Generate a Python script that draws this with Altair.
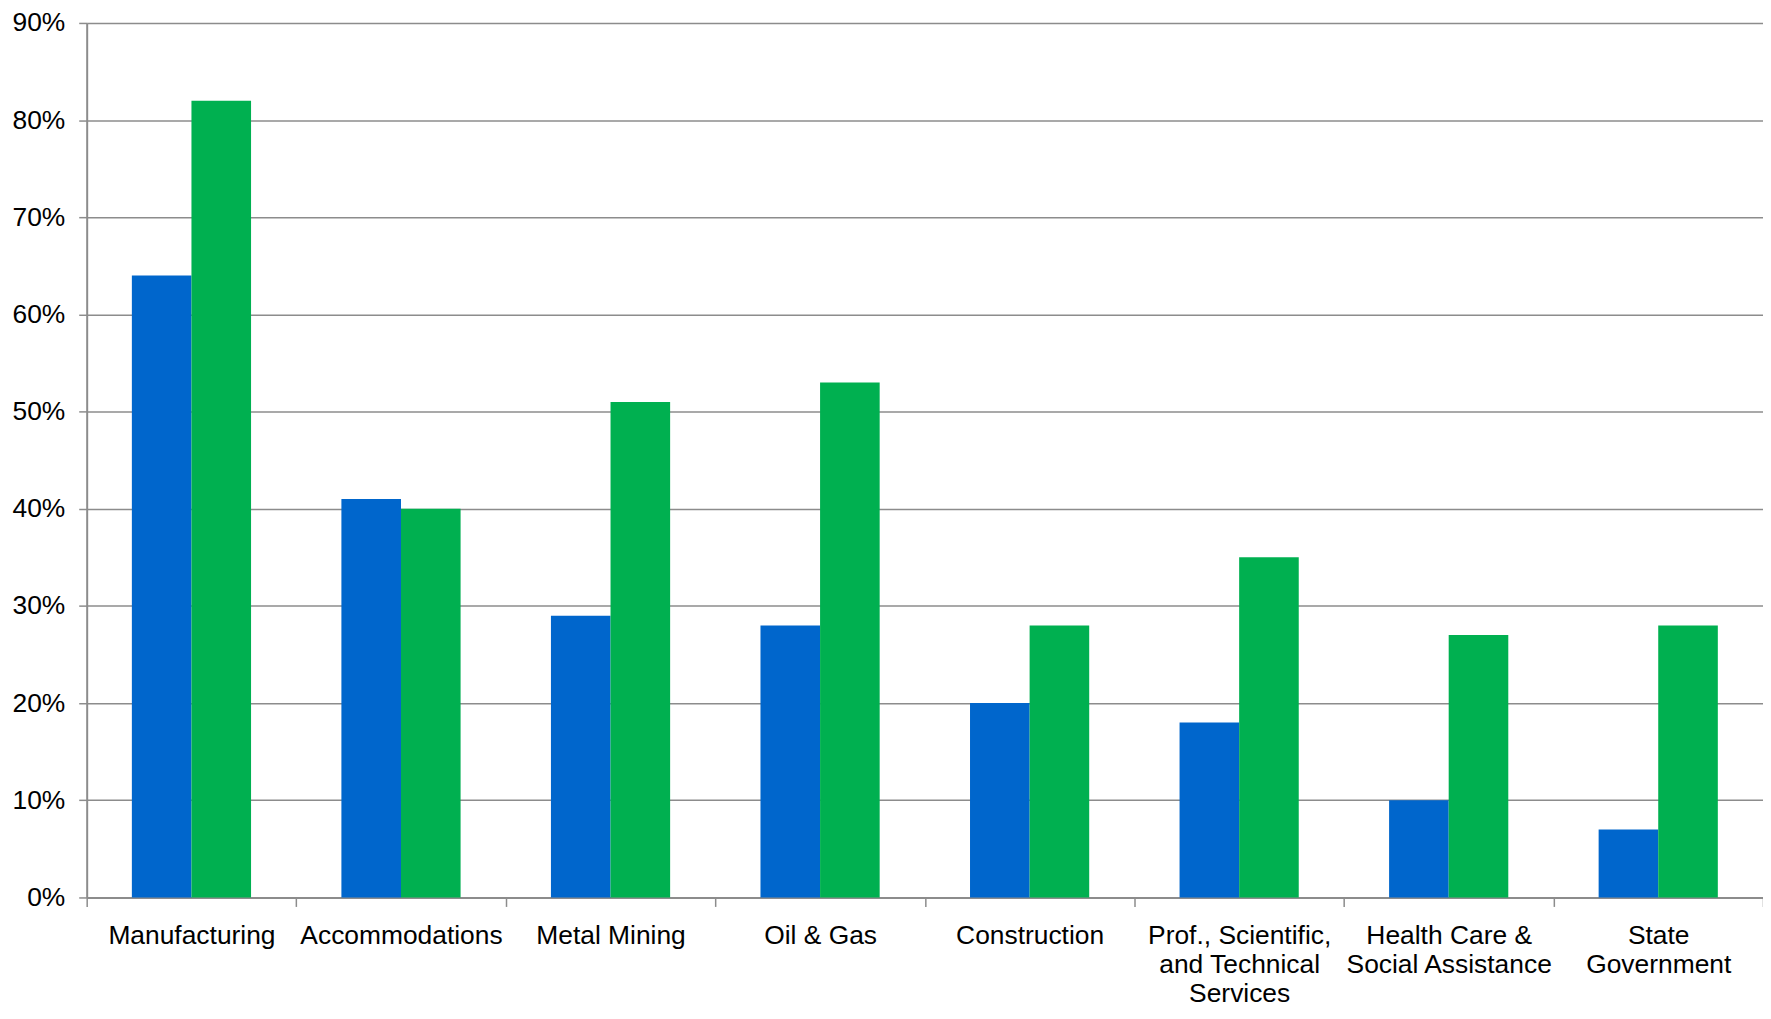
import altair as alt
import pandas as pd

categories = ["Manufacturing", "Accommodations", "Metal Mining", "Oil & Gas",
              "Construction", "Prof., Scientific,|and Technical|Services",
              "Health Care &|Social Assistance", "State|Government"]
series_a = [64, 41, 29, 28, 20, 18, 10, 7]
series_b = [82, 40, 51, 53, 28, 35, 27, 28]
series_names = ["A", "B"]
colors = ["#0066CC", "#00B050"]
y_ticks = [0, 10, 20, 30, 40, 50, 60, 70, 80, 90]

rows = []
for c, a, b in zip(categories, series_a, series_b):
    rows.append({"category": c, "series": series_names[0], "value": a})
    rows.append({"category": c, "series": series_names[1], "value": b})
df = pd.DataFrame(rows)

grey = "#8c8c8c"
font = "Liberation Sans"

chart = alt.Chart(df).mark_bar().encode(
    x=alt.X("category:N", sort=categories, title=None,
            scale=alt.Scale(paddingInner=0, paddingOuter=0),
            axis=alt.Axis(labelAngle=0, labelExpr="split(datum.label, '|')",
                          tickBand="extent", tickSize=9, tickColor=grey, tickWidth=1.5,
                          domainColor=grey, domainWidth=2, labelPadding=16,
                          labelLineHeight=29, labelFontSize=26.5, labelFont=font,
                          labelColor="black", grid=False, labelBaseline="top",
                          labelLimit=400)),
    xOffset=alt.XOffset("series:N", sort=series_names,
                        scale=alt.Scale(paddingInner=0, paddingOuter=0.758)),
    y=alt.Y("value:Q", title=None,
            scale=alt.Scale(domain=[0, 90], nice=False),
            axis=alt.Axis(values=y_ticks, labelExpr="datum.value + '%'",
                          tickSize=8, tickColor=grey, tickWidth=1.5,
                          domainColor=grey, domainWidth=2, gridColor=grey, gridWidth=1.5,
                          labelPadding=14, labelFontSize=26.5, labelFont=font,
                          labelColor="black")),
    color=alt.Color("series:N", sort=series_names,
                    scale=alt.Scale(domain=series_names, range=colors), legend=None),
).properties(
    width=1683, height=878,
    autosize=alt.AutoSizeParams(type="none"),
    padding={"left": 79, "top": 13, "right": 0, "bottom": 115},
).configure_view(stroke=None)

chart.save("out.html", embed_options={"renderer": "svg", "actions": False})
